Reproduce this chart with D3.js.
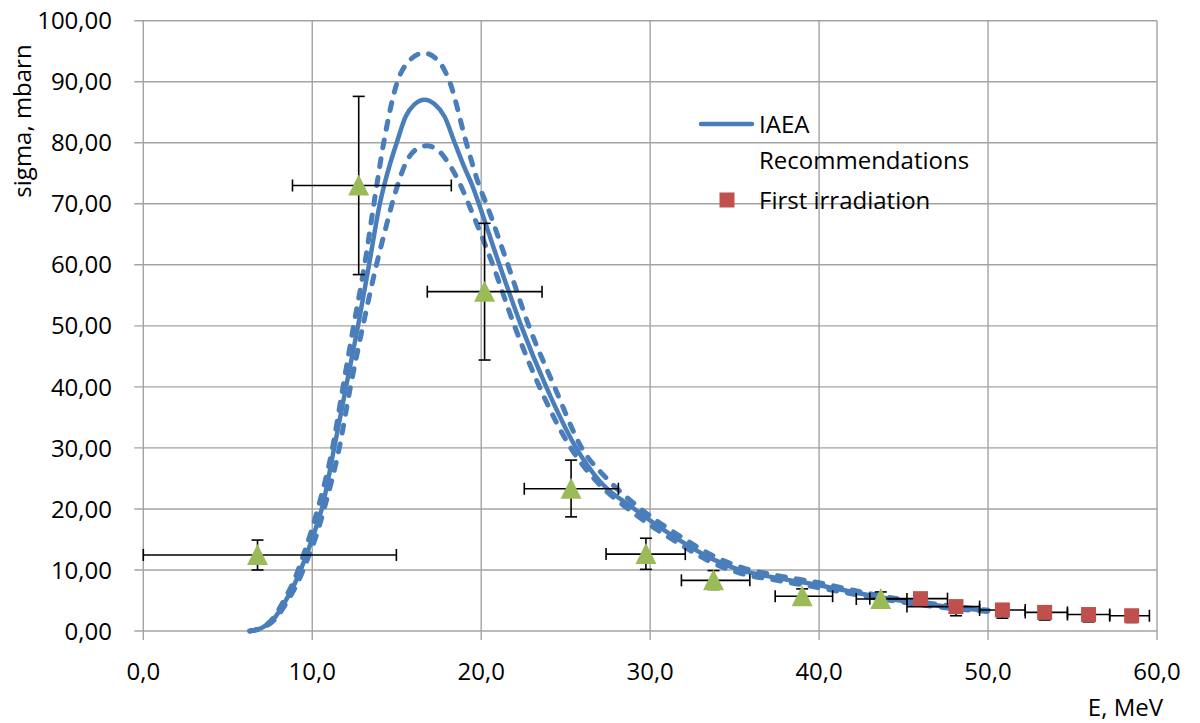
<!DOCTYPE html>
<html>
<head>
<meta charset="utf-8">
<script src="https://cdn.jsdelivr.net/npm/d3@7"></script>
<style>
  body { margin: 0; background: #fff; }
  svg text { font-family: 'Open Sans', sans-serif; fill: #000; }
</style>
</head>
<body>
<svg id="chart" width="1200" height="723"></svg>
<script>
// IAEA recommended curve (solid) and its upper / lower bounds (dashed)
const iaeaE = [6.3, 7.0, 7.69, 8.47, 9.07, 9.66, 10.25, 10.6, 11.3, 12.0, 12.71, 13.36, 14.0, 14.6, 15.0, 15.53, 16.05, 16.65, 17.25, 17.83, 18.43, 19.0, 19.5, 19.86, 21.08, 22.37, 23.85, 25.62, 27.0, 29.07, 31.9, 33.6, 35.3, 37.5, 40, 42.5, 45, 47.5, 50];
const iaeaSigma = [0, 0.5, 1.9, 5.2, 8.4, 12.5, 17.2, 20.4, 30, 40, 50, 60, 70, 76.5, 80, 84.3, 86.3, 87.05, 86.3, 84.3, 80, 76, 72.8, 70, 60, 50, 40, 30, 24.6, 20, 14.6, 11.9, 10.0, 8.7, 7.5, 6.1, 4.9, 4.0, 3.3];

const upperE = [6.3, 7.0, 7.65, 8.4, 9.0, 9.55, 10.33, 11.2, 11.82, 12.45, 13.1, 13.65, 14.23, 15.04, 15.6, 16.6, 17.5, 18.13, 19.12, 19.9, 20.3, 21.58, 22.82, 24.34, 25.95, 27.5, 29.45, 31.9, 33.6, 35.3, 37.5, 40, 42.5, 45, 47.5, 50];
const upperSigma = [0, 0.5, 2.0, 5.4, 8.8, 13, 20, 30, 40, 50, 60, 70, 80, 90, 93, 94.7, 93.3, 90, 80, 72.8, 70, 60, 50, 40, 30, 24.8, 20, 15.3, 12.5, 10.5, 9.1, 7.9, 6.4, 5.1, 4.2, 3.4];

const lowerE = [6.3, 7.0, 7.75, 8.55, 9.15, 9.75, 10.35, 10.7, 11.6, 12.26, 13.0, 13.8, 14.3, 14.9, 15.63, 16.2, 16.78, 17.35, 17.93, 18.82, 19.25, 20.69, 21.97, 23.45, 25.3, 27.0, 28.7, 31.9, 33.6, 35.3, 37.5, 40, 42.5, 45, 47.5, 50];
const lowerSigma = [0, 0.5, 1.8, 5.0, 8.0, 12.0, 16.6, 20, 30, 40, 50, 60, 65.5, 71.7, 77.2, 79.0, 79.5, 79.0, 77.2, 72.8, 70, 60, 50, 40, 30, 24.0, 20, 14.0, 11.3, 9.5, 8.3, 7.1, 5.8, 4.7, 3.8, 3.2];

// earlier measurements (green triangles)
const triE = [6.76, 12.75, 20.2, 25.32, 29.75, 33.75, 39.0, 43.65];
const triSigma = [12.46, 73.0, 55.6, 23.3, 12.6, 8.3, 5.7, 5.25];
const triELo = [0, 8.83, 16.81, 22.55, 27.39, 31.85, 37.4, 42.2];
const triEHi = [14.98, 18.23, 23.6, 28.12, 32.08, 35.9, 40.8, 45.2];
const triSigmaLo = [10.0, 58.4, 44.4, 18.7, 10.1, 6.8, 4.5, 4.2];
const triSigmaHi = [14.9, 87.6, 66.8, 28.0, 15.2, 9.9, 6.9, 6.4];

// first irradiation (red squares)
const sqE = [46.0, 48.1, 50.85, 53.35, 55.95, 58.5];
const sqSigma = [5.3, 4.0, 3.45, 3.05, 2.7, 2.5];
const sqELo = [43.0, 45.2, 49.5, 52.2, 54.7, 57.2];
const sqEHi = [47.6, 49.5, 52.2, 54.7, 57.2, 59.55];
const sqSigmaLo = [4.6, 2.5, 2.1, 1.8, 1.5, 1.4];
const sqSigmaHi = [5.9, 4.6, 4.0, 3.6, 3.2, 3.0];

const xTicks = [0, 10, 20, 30, 40, 50, 60];
const yTicks = [0, 10, 20, 30, 40, 50, 60, 70, 80, 90, 100];

const blue = '#4a7ebb';
const green = '#9bbb59';
const red = '#c0504d';
const gridColor = '#a3a3a3';

const svg = d3.select('#chart');

const x = d3.scaleLinear().domain([0, 60]).range([143.3, 1157]);
const y = d3.scaleLinear().domain([0, 100]).range([631, 20.7]);

const fmtY = (v) => d3.format('.2f')(v).replace('.', ',');
const fmtX = (v) => d3.format('.1f')(v).replace('.', ',');

// grid + tick marks
svg.append('g')
  .selectAll('line')
  .data(yTicks)
  .join('line')
  .attr('x1', x(0) - 9)
  .attr('x2', x(60))
  .attr('y1', (d) => y(d))
  .attr('y2', (d) => y(d))
  .attr('stroke', gridColor)
  .attr('stroke-width', 1.4);

svg.append('g')
  .selectAll('line')
  .data(xTicks)
  .join('line')
  .attr('x1', (d) => x(d))
  .attr('x2', (d) => x(d))
  .attr('y1', y(100))
  .attr('y2', y(0) + 9)
  .attr('stroke', gridColor)
  .attr('stroke-width', 1.4);

svg.append('g')
  .selectAll('text')
  .data(yTicks)
  .join('text')
  .attr('x', 112)
  .attr('y', (d) => y(d))
  .attr('dy', '0.36em')
  .attr('text-anchor', 'end')
  .style('font-size', '24px')
  .text(fmtY);

svg.append('g')
  .selectAll('text')
  .data(xTicks)
  .join('text')
  .attr('x', (d) => x(d))
  .attr('y', 671)
  .attr('dy', '0.36em')
  .attr('text-anchor', 'middle')
  .style('font-size', '24px')
  .text(fmtX);

svg.append('text')
  .attr('transform', 'translate(22,121) rotate(-90)')
  .attr('dy', '0.36em')
  .attr('text-anchor', 'middle')
  .style('font-size', '24px')
  .text('sigma, mbarn');

svg.append('text')
  .attr('x', 1163)
  .attr('y', 707)
  .attr('dy', '0.36em')
  .attr('text-anchor', 'end')
  .style('font-size', '24px')
  .text('E, MeV');

// curves
const line = d3.line()
  .x((d) => x(d[0]))
  .y((d) => y(d[1]))
  .curve(d3.curveMonotoneX);

function drawCurve(es, sigmas, dashed) {
  svg.append('path')
    .datum(d3.zip(es, sigmas))
    .attr('d', line)
    .attr('fill', 'none')
    .attr('stroke', blue)
    .attr('stroke-width', dashed ? 5 : 4.5)
    .attr('stroke-linecap', 'round')
    .attr('stroke-linejoin', 'round')
    .attr('stroke-dasharray', dashed ? '8,11' : null);
}

drawCurve(upperE, upperSigma, true);
drawCurve(lowerE, lowerSigma, true);
drawCurve(iaeaE, iaeaSigma, false);

// error bars
function drawErrors(es, sigmas, eLo, eHi, sLo, sHi) {
  const g = svg.append('g').attr('stroke', '#000').attr('stroke-width', 1.6);
  const cap = 6;
  es.forEach((e, i) => {
    const cx = x(e);
    const cy = y(sigmas[i]);
    // horizontal
    g.append('line').attr('x1', x(eLo[i])).attr('x2', x(eHi[i])).attr('y1', cy).attr('y2', cy);
    g.append('line').attr('x1', x(eLo[i])).attr('x2', x(eLo[i])).attr('y1', cy - cap).attr('y2', cy + cap);
    g.append('line').attr('x1', x(eHi[i])).attr('x2', x(eHi[i])).attr('y1', cy - cap).attr('y2', cy + cap);
    // vertical
    g.append('line').attr('x1', cx).attr('x2', cx).attr('y1', y(sLo[i])).attr('y2', y(sHi[i]));
    g.append('line').attr('x1', cx - cap).attr('x2', cx + cap).attr('y1', y(sLo[i])).attr('y2', y(sLo[i]));
    g.append('line').attr('x1', cx - cap).attr('x2', cx + cap).attr('y1', y(sHi[i])).attr('y2', y(sHi[i]));
  });
}

drawErrors(triE, triSigma, triELo, triEHi, triSigmaLo, triSigmaHi);
drawErrors(sqE, sqSigma, sqELo, sqEHi, sqSigmaLo, sqSigmaHi);

// markers
svg.append('g')
  .selectAll('path')
  .data(d3.zip(triE, triSigma))
  .join('path')
  .attr('d', (d) => {
    const cx = x(d[0]);
    const cy = y(d[1]);
    return `M${cx},${cy - 11}L${cx + 10.5},${cy + 10}L${cx - 10.5},${cy + 10}Z`;
  })
  .attr('fill', green);

svg.append('g')
  .selectAll('rect')
  .data(d3.zip(sqE, sqSigma))
  .join('rect')
  .attr('x', (d) => x(d[0]) - 7.5)
  .attr('y', (d) => y(d[1]) - 7.5)
  .attr('width', 15)
  .attr('height', 15)
  .attr('fill', red);

// legend
const legend = svg.append('g');
legend.append('line')
  .attr('x1', 701).attr('x2', 752)
  .attr('y1', 124).attr('y2', 124)
  .attr('stroke', blue)
  .attr('stroke-width', 4.5)
  .attr('stroke-linecap', 'round');
legend.append('text').attr('x', 759).attr('y', 124).attr('dy', '0.36em').style('font-size', '24px').text('IAEA');
legend.append('text').attr('x', 759).attr('y', 160).attr('dy', '0.36em').style('font-size', '24px').text('Recommendations');
legend.append('rect')
  .attr('x', 719.5).attr('y', 192.5)
  .attr('width', 15).attr('height', 15)
  .attr('fill', red);
legend.append('text').attr('x', 759).attr('y', 200).attr('dy', '0.36em').style('font-size', '24px').text('First irradiation');
</script>
</body>
</html>
